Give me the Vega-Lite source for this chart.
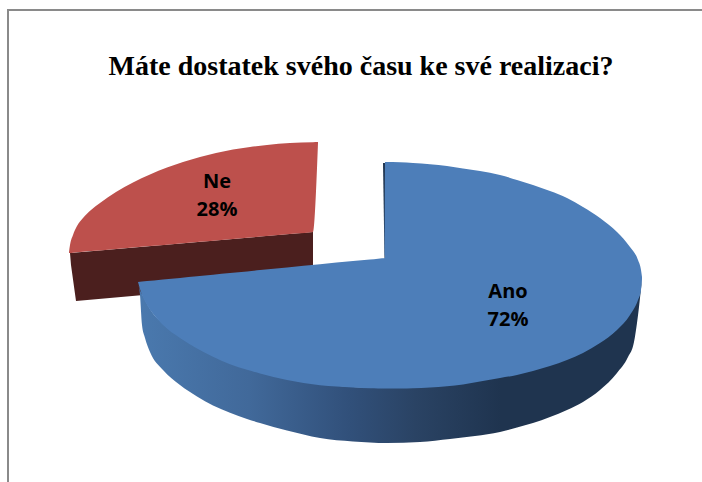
{
  "$schema": "https://vega.github.io/schema/vega-lite/v6.json",
  "width": 702,
  "height": 482,
  "padding": 0,
  "autosize": "none",
  "background": "white",
  "view": {"stroke": null},
  "title": {
    "text": "Máte dostatek svého času ke své realizaci?",
    "font": "Liberation Serif",
    "fontSize": 28,
    "fontWeight": "bold",
    "color": "#000000",
    "anchor": "middle",
    "frame": "group",
    "baseline": "alphabetic",
    "dx": 10,
    "offset": -103
  },
  "datasets": {
    "neSide": [
      {"x": 70, "y": 253, "y2": 253},
      {"x": 71, "y": 252.9, "y2": 265},
      {"x": 76, "y": 252.5, "y2": 301},
      {"x": 313, "y": 232, "y2": 280}
    ],
    "neTop": [
      {"x": 69, "y": 252, "y2": 253},
      {"x": 70, "y": 245, "y2": 253},
      {"x": 73, "y": 235, "y2": 252.7},
      {"x": 77, "y": 226, "y2": 252.3},
      {"x": 83, "y": 218, "y2": 251.8},
      {"x": 91, "y": 210, "y2": 251.1},
      {"x": 100, "y": 203, "y2": 250.4},
      {"x": 116, "y": 192, "y2": 249},
      {"x": 133, "y": 182.5, "y2": 247.6},
      {"x": 150, "y": 174.5, "y2": 246.1},
      {"x": 167, "y": 167.5, "y2": 244.7},
      {"x": 183, "y": 162, "y2": 243.3},
      {"x": 200, "y": 157, "y2": 241.8},
      {"x": 216, "y": 153, "y2": 240.4},
      {"x": 233, "y": 149.5, "y2": 239},
      {"x": 250, "y": 147, "y2": 237.5},
      {"x": 267, "y": 145, "y2": 236},
      {"x": 290, "y": 143, "y2": 234},
      {"x": 313, "y": 142.2, "y2": 232},
      {"x": 318, "y": 142, "y2": 143}
    ],
    "anoSide": [
      {"x": 138, "y": 282, "y2": 282},
      {"x": 140, "y": 290, "y2": 295},
      {"x": 142, "y": 294, "y2": 325},
      {"x": 145, "y": 300, "y2": 338},
      {"x": 150, "y": 309, "y2": 352},
      {"x": 163, "y": 324, "y2": 370},
      {"x": 180, "y": 337, "y2": 385},
      {"x": 197, "y": 347.5, "y2": 396.5},
      {"x": 213, "y": 355.8, "y2": 405.5},
      {"x": 230, "y": 363.2, "y2": 412.8},
      {"x": 247, "y": 368.8, "y2": 419},
      {"x": 260, "y": 372.5, "y2": 423},
      {"x": 287, "y": 379, "y2": 430.5},
      {"x": 320, "y": 384.3, "y2": 438},
      {"x": 353, "y": 387, "y2": 441.5},
      {"x": 387, "y": 388, "y2": 443},
      {"x": 420, "y": 387, "y2": 442},
      {"x": 450, "y": 385, "y2": 439},
      {"x": 475, "y": 381, "y2": 436},
      {"x": 500, "y": 377, "y2": 432},
      {"x": 517, "y": 374, "y2": 427.5},
      {"x": 533, "y": 370, "y2": 423},
      {"x": 550, "y": 365, "y2": 417},
      {"x": 567, "y": 359, "y2": 410},
      {"x": 583, "y": 352, "y2": 402},
      {"x": 600, "y": 342, "y2": 390},
      {"x": 617, "y": 329, "y2": 373},
      {"x": 628, "y": 316, "y2": 357},
      {"x": 634, "y": 306, "y2": 342},
      {"x": 637, "y": 300, "y2": 323},
      {"x": 640, "y": 292, "y2": 298},
      {"x": 642, "y": 277, "y2": 279}
    ],
    "innerWall": [
      {"x": 384, "y": 163},
      {"x": 385.5, "y": 258}
    ],
    "anoTop": [
      {"x": 138, "y": 282, "y2": 282},
      {"x": 142, "y": 281.6, "y2": 295},
      {"x": 147, "y": 281, "y2": 305},
      {"x": 154, "y": 280.4, "y2": 315},
      {"x": 163, "y": 279.5, "y2": 325},
      {"x": 180, "y": 277.9, "y2": 338},
      {"x": 197, "y": 276.2, "y2": 348.5},
      {"x": 213, "y": 274.7, "y2": 356.8},
      {"x": 230, "y": 273, "y2": 364.2},
      {"x": 247, "y": 271.4, "y2": 369.8},
      {"x": 260, "y": 270.1, "y2": 373.5},
      {"x": 287, "y": 267.5, "y2": 380},
      {"x": 320, "y": 264.3, "y2": 385.3},
      {"x": 353, "y": 261.1, "y2": 387.5},
      {"x": 370, "y": 259.5, "y2": 388.2},
      {"x": 378, "y": 258.7, "y2": 388.4},
      {"x": 382, "y": 258.3, "y2": 388.5},
      {"x": 384.9, "y": 258, "y2": 388.5},
      {"x": 385, "y": 162, "y2": 388.5},
      {"x": 400, "y": 162.3, "y2": 388.5},
      {"x": 413, "y": 163, "y2": 388.3},
      {"x": 430, "y": 164.3, "y2": 387.5},
      {"x": 447, "y": 166, "y2": 386.3},
      {"x": 463, "y": 168.5, "y2": 384.5},
      {"x": 480, "y": 171, "y2": 381.5},
      {"x": 500, "y": 175, "y2": 378},
      {"x": 517, "y": 180, "y2": 375},
      {"x": 533, "y": 185, "y2": 371},
      {"x": 550, "y": 191, "y2": 366},
      {"x": 567, "y": 198, "y2": 360},
      {"x": 583, "y": 207, "y2": 353},
      {"x": 600, "y": 218, "y2": 343},
      {"x": 617, "y": 232, "y2": 330},
      {"x": 630, "y": 247, "y2": 315},
      {"x": 638, "y": 260, "y2": 300},
      {"x": 641, "y": 270, "y2": 290},
      {"x": 642, "y": 277, "y2": 279}
    ],
    "slices": [
      {"slice": "Ano", "share": 72, "x": 508, "y": 292},
      {"slice": "Ne", "share": 28, "x": 217, "y": 182}
    ],
    "frame": [
      {"seq": 0, "x": 8, "y": 482},
      {"seq": 1, "x": 8, "y": 10},
      {"seq": 2, "x": 702, "y": 10}
    ]
  },
  "encoding": {
    "x": {"field": "x", "type": "quantitative", "axis": null, "scale": {"domain": [0, 702], "nice": false, "zero": false}},
    "y": {"field": "y", "type": "quantitative", "axis": null, "scale": {"domain": [482, 0], "nice": false, "zero": false}}
  },
  "layer": [
    {
      "data": {"name": "frame"},
      "mark": {"type": "line", "color": "#8a8a8a", "strokeWidth": 2, "strokeCap": "square"},
      "encoding": {"order": {"field": "seq", "type": "quantitative"}}
    },
    {
      "data": {"name": "neSide"},
      "mark": {"type": "area", "orient": "vertical", "color": "#4b1f1e"},
      "encoding": {"y2": {"field": "y2"}}
    },
    {
      "data": {"name": "neTop"},
      "mark": {"type": "area", "orient": "vertical", "interpolate": "monotone", "color": "#bd504c"},
      "encoding": {"y2": {"field": "y2"}}
    },
    {
      "data": {"name": "anoSide"},
      "mark": {
        "type": "area",
        "orient": "vertical",
        "interpolate": "monotone",
        "color": {
          "gradient": "linear",
          "x1": 0, "y1": 0, "x2": 1, "y2": 0,
          "stops": [
            {"offset": 0, "color": "#4a79ae"},
            {"offset": 0.22, "color": "#41699a"},
            {"offset": 0.42, "color": "#31507a"},
            {"offset": 0.55, "color": "#2a4364"},
            {"offset": 0.72, "color": "#1f344f"},
            {"offset": 1, "color": "#1f344f"}
          ]
        }
      },
      "encoding": {"y2": {"field": "y2"}}
    },
    {
      "data": {"name": "innerWall"},
      "mark": {"type": "line", "color": "#1f344f", "strokeWidth": 2}
    },
    {
      "data": {"name": "anoTop"},
      "mark": {"type": "area", "orient": "vertical", "interpolate": "monotone", "color": "#4d7eb9"},
      "encoding": {"y2": {"field": "y2"}}
    },
    {
      "data": {"name": "slices"},
      "transform": [{"calculate": "datum.slice + '\\n' + datum.share + '%'", "as": "label"}],
      "mark": {
        "type": "text",
        "font": "Open Sans",
        "fontSize": 20,
        "fontWeight": "bold",
        "color": "#000000",
        "align": "center",
        "baseline": "middle",
        "lineBreak": "\n",
        "lineHeight": 28
      },
      "encoding": {"text": {"field": "label"}}
    }
  ]
}
